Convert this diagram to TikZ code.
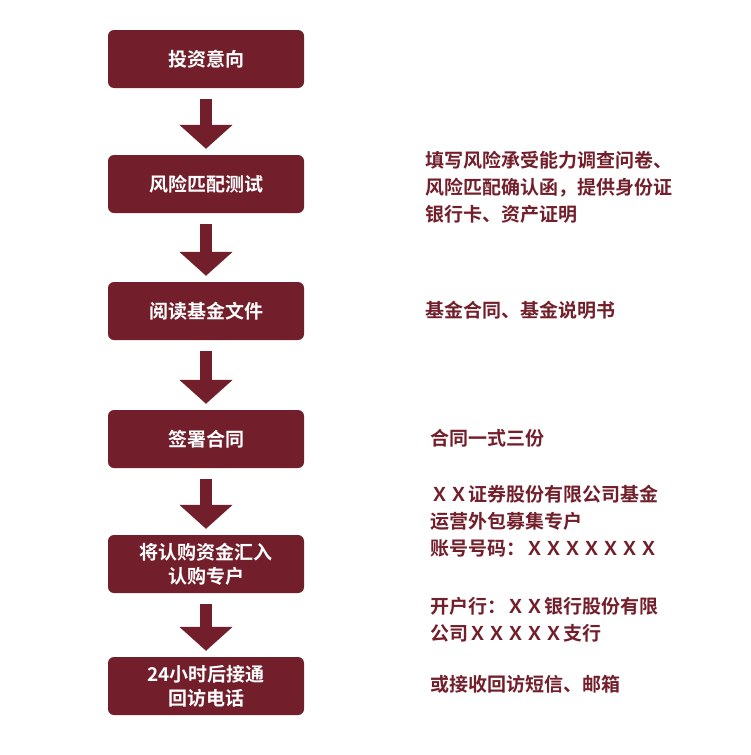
\documentclass[tikz,border=0pt]{standalone}
\usepackage{fontspec}
\newfontfamily\cjk{Noto Sans CJK SC Bold}
\usetikzlibrary{positioning,arrows.meta}
\definecolor{wine}{HTML}{721F2B}
\begin{document}
\begin{tikzpicture}[x=1pt,y=-1pt]
        \tikzstyle{stepbox}=[fill=wine, rounded corners=6pt, minimum width=196pt, minimum height=58pt, text=white, font=\cjk\fontsize{19}{24}\selectfont, align=center, inner sep=0pt];
        \tikzstyle{note}=[anchor=west, text=wine, font=\cjk\fontsize{19}{27}\selectfont, align=left, inner sep=0pt];
        \tikzstyle{flow}=[-{Triangle[width=52pt,length=24pt]}, line width=12pt, wine, shorten <=11pt, shorten >=6pt];

        \useasboundingbox (0,0) rectangle (750,755);

        \node[stepbox] (s1) at (206, 59) {投资意向};
        \node[stepbox] (s2) at (206, 184) {风险匹配测试};
        \node[stepbox] (s3) at (206, 311) {阅读基金文件};
        \node[stepbox] (s4) at (206, 439) {签署合同};
        \node[stepbox] (s5) at (206, 564) {将认购资金汇入\\认购专户};
        \node[stepbox] (s6) at (206, 686) {24小时后接通\\回访电话};

        \draw[flow] (s1) -- (s2);
        \draw[flow] (s2) -- (s3);
        \draw[flow] (s3) -- (s4);
        \draw[flow] (s4) -- (s5);
        \draw[flow] (s5) -- (s6);

        \node[note] (n2) at (425, 187) {填写风险承受能力调查问卷、\\风险匹配确认函，提供身份证\\银行卡、资产证明};
        \node[note] (n3) at (425, 310) {基金合同、基金说明书};
        \node[note] (n4) at (430, 438) {合同一式三份};
        \node[note] (n5) at (430, 521) {ＸＸ证券股份有限公司基金\\运营外包募集专户\\账号号码：ＸＸＸＸＸＸＸ};
        \node[note] (n6) at (430, 620) {开户行：ＸＸ银行股份有限\\公司ＸＸＸＸＸ支行};
        \node[note] (n7) at (430, 684) {或接收回访短信、邮箱};
\end{tikzpicture}
\end{document}
